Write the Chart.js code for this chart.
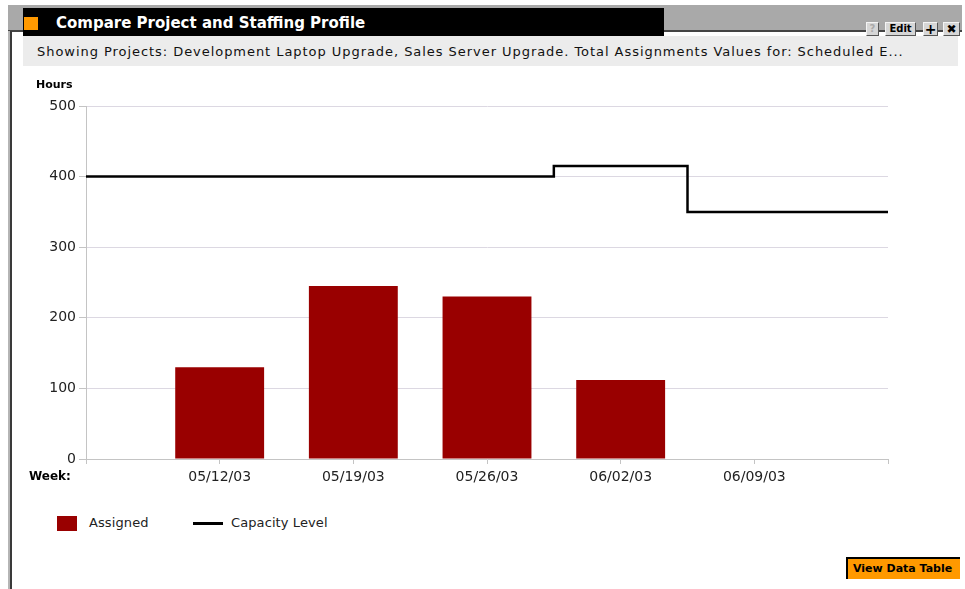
<!DOCTYPE html>
<html>
<head>
<meta charset="utf-8">
<script src="https://cdn.jsdelivr.net/npm/chart.js@4/dist/chart.umd.min.js"></script>
<style>
  html, body { margin: 0; padding: 0; background: #fff; }
  body { width: 965px; height: 589px; position: relative; overflow: hidden; font-family: "DejaVu Sans", Verdana, sans-serif; }
  .abs { position: absolute; }
  #topband { left: 8px; top: 5px; width: 954px; height: 25px; background: #a9a9a9; border-bottom: 2px solid #444; }
  #leftedge { left: 8px; top: 31px; width: 2px; height: 560px; background: #b5b5b5; }
  #leftline { left: 10px; top: 31px; width: 2px; height: 560px; background: #3a3a3a; }
  #titlebar { left: 23px; top: 8px; width: 641px; height: 28px; background: #000; }
  #titlebar .sq { position: absolute; left: 1px; top: 9px; width: 14px; height: 13px; background: #f90; }
  #titlebar .txt { position: absolute; left: 33px; top: 6px; color: #fff; font-weight: bold; font-size: 15px; white-space: nowrap; }
  #subbar { left: 23px; top: 36px; width: 935px; height: 30px; background: #ececec; }
  #subbar .txt { position: absolute; left: 14px; top: 8px; font-size: 13px; letter-spacing: 0.95px; color: #111; white-space: nowrap; }
  .btn { top: 22px; height: 12px; background: #d6d6d6; border-top: 1px solid #f4f4f4; border-left: 1px solid #f4f4f4;
         border-right: 1px solid #555; border-bottom: 1px solid #555; font-size: 10px; font-weight: bold; line-height: 12px;
         text-align: center; color: #000; }
  #chartbox { left: 0; top: 66px; width: 965px; height: 420px; }
  .lbl { font-size: 11px; font-weight: bold; color: #000; white-space: nowrap; }
  .leg { font-size: 13px; color: #222; white-space: nowrap; letter-spacing: 0.1px; }
  #viewbtn { left: 846px; top: 557px; width: 107px; height: 20px; background: #f90; border-left: 2px solid #000; border-top: 2px solid #000;
             font-size: 11px; font-weight: bold; line-height: 20px; padding-left: 5px; white-space: nowrap; }
</style>
</head>
<body>
<div class="abs" id="topband"></div>
<div class="abs" id="leftedge"></div>
<div class="abs" id="leftline"></div>
<div class="abs" id="titlebar"><div class="sq"></div><div class="txt">Compare Project and Staffing Profile</div></div>
<div class="abs btn" style="left:866px;width:11px;color:#aaa;">?</div>
<div class="abs btn" style="left:885px;width:29px;">Edit</div>
<div class="abs btn" style="left:923px;width:13px;font-size:14px;">+</div>
<div class="abs btn" style="left:943px;width:15px;font-size:12px;">✖</div>
<div class="abs" id="subbar"><div class="txt">Showing Projects: Development Laptop Upgrade, Sales Server Upgrade. Total Assignments Values for: Scheduled E...</div></div>

<div class="abs" id="chartbox"><canvas id="chart-profile" width="965" height="420"></canvas></div>

<div class="abs lbl" style="left:36px;top:78px;">Hours</div>
<div class="abs lbl" style="left:29px;top:469px;font-size:12px;">Week:</div>

<div class="abs" style="left:57px;top:516px;width:20px;height:15px;background:#990000;"></div>
<div class="abs leg" style="left:89px;top:515px;">Assigned</div>
<div class="abs" style="left:193px;top:522px;width:30px;height:3px;background:#000;"></div>
<div class="abs leg" style="left:231px;top:515px;">Capacity Level</div>

<div class="abs" id="viewbtn">View Data Table</div>

<script>
// Weekly staffing figures (hours)
const weeks = ['05/12/03', '05/19/03', '05/26/03', '06/02/03', '06/09/03'];
const assignedHours = [130, 245, 230, 112, null];
const capacityHours = [400, 400, 400, 415, 350];
const yTicks = [0, 100, 200, 300, 400, 500];

// The axis runs half a period past the first and last week, so pad both ends
const labels = ['', ...weeks, ''];
const assignedData = [null, ...assignedHours, null];
const capacityData = [capacityHours[0], ...capacityHours, capacityHours[capacityHours.length - 1]];

const fontFamily = '"DejaVu Sans", Verdana, sans-serif';
const gridColor = '#dcd8e2';
const axisColor = '#c4c4c4';

new Chart(document.getElementById('chart-profile'), {
    type: 'bar',
    data: {
        labels,
        datasets: [
            {
                type: 'line',
                label: 'Capacity Level',
                data: capacityData,
                borderColor: '#000',
                borderWidth: 2.5,
                stepped: 'middle',
                pointRadius: 0,
                fill: false,
                order: 0,
            },
            {
                label: 'Assigned',
                data: assignedData,
                backgroundColor: '#990000',
                categoryPercentage: 1,
                barPercentage: 0.665,
                order: 1,
            },
        ],
    },
    options: {
        responsive: false,
        animation: false,
        layout: { padding: { top: 40, right: 77, left: 0, bottom: 0 } },
        plugins: { legend: { display: false }, tooltip: { enabled: false } },
        scales: {
            x: {
                offset: false,
                grid: { offset: false, drawOnChartArea: false, drawTicks: true, tickLength: 5, color: axisColor },
                border: { color: axisColor },
                ticks: { color: '#222', font: { family: fontFamily, size: 14 }, maxRotation: 0, autoSkip: false, padding: 5 },
                afterFit: (scale) => { scale.height = 27; },
            },
            y: {
                min: yTicks[0],
                max: yTicks[yTicks.length - 1],
                afterBuildTicks: (scale) => { scale.ticks = yTicks.map((v) => ({ value: v })); },
                grid: { color: gridColor, tickLength: 7, tickColor: axisColor },
                border: { color: axisColor },
                ticks: { color: '#222', font: { family: fontFamily, size: 14 }, padding: 3 },
                afterFit: (scale) => { scale.width = 86; },
            },
        },
    },
});
</script>
</body>
</html>
